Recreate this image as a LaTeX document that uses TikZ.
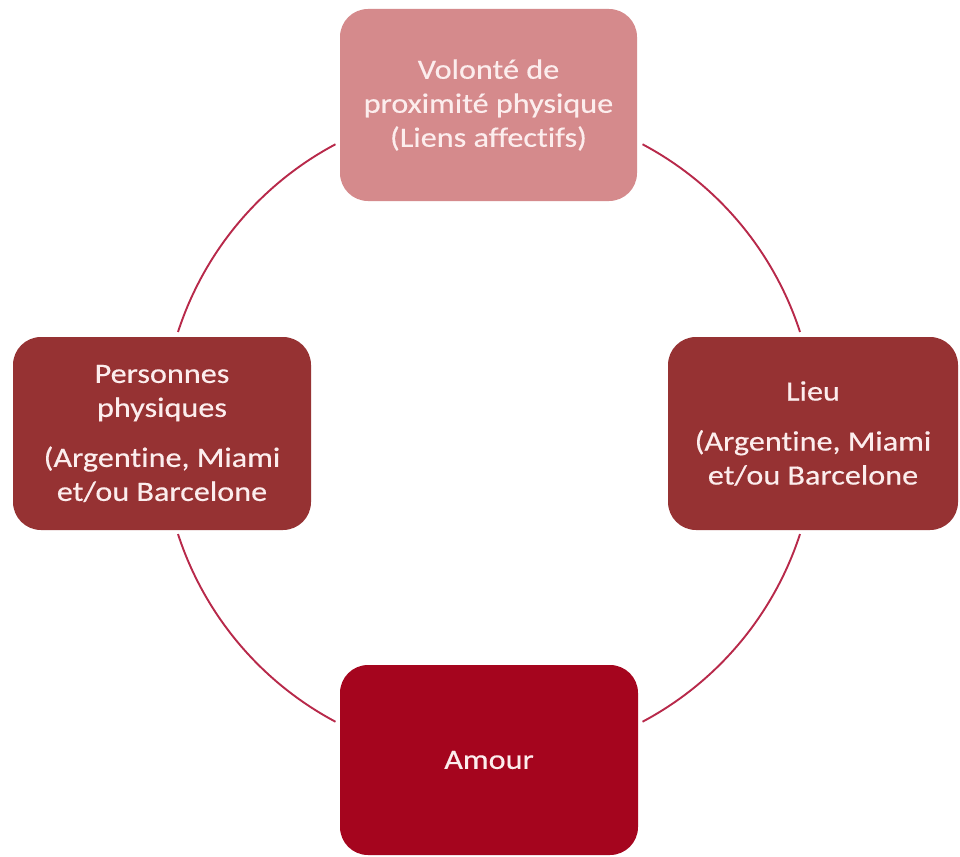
\documentclass[tikz,border=0pt]{standalone}
\usepackage{fontspec}
\setmainfont{Carlito}[Ligatures={NoCommon}, FakeStretch=1.15, FakeBold=0.4]
\definecolor{pinkbox}{HTML}{D58A8C}
\definecolor{brickbox}{HTML}{963233}
\definecolor{crimsonbox}{HTML}{A5051E}
\definecolor{ringline}{HTML}{B8294A}
\definecolor{boxtext}{HTML}{FCEDED}
\begin{document}
\begin{tikzpicture}[x=1pt,y=-1pt,
  cyclebox/.style={rectangle, rounded corners=28pt, draw=none, align=center,
    text=boxtext, font=\fontsize{28}{34}\selectfont, inner sep=0pt},
  ring/.style={draw=ringline, line width=1.9pt}]
\useasboundingbox (0,0) rectangle (960,856);
\fill[white] (0,0) rectangle (960,856);

% centre of the cycle ring
\coordinate (hub) at (489,433);

% ring segments between the boxes
\draw[ring] ([shift={(-162:327)}]hub) arc[start angle=-162, end angle=-118, radius=327];
\draw[ring] ([shift={(-62:327)}]hub) arc[start angle=-62, end angle=-18, radius=327];
\draw[ring] ([shift={(18:327)}]hub) arc[start angle=18, end angle=62, radius=327];
\draw[ring] ([shift={(118:327)}]hub) arc[start angle=118, end angle=162, radius=327];

% the four stages
\node[cyclebox, fill=pinkbox, minimum width=297pt, minimum height=192pt] (volonte) at (488.5,105)
  {Volonté de\\proximité physique\\(Liens affectifs)};
\node[cyclebox, fill=brickbox, minimum width=298pt, minimum height=193pt] (personnes) at (162,433.5)
  {Personnes\\physiques\\[16pt](Argentine, Miami\\et/ou Barcelone};
\node[cyclebox, fill=brickbox, minimum width=290pt, minimum height=193pt] (lieu) at (813,433.5)
  {Lieu\\[16pt](Argentine, Miami\\et/ou Barcelone};
\node[cyclebox, fill=crimsonbox, minimum width=298pt, minimum height=190pt] (amour) at (489,760)
  {Amour};
\end{tikzpicture}
\end{document}
